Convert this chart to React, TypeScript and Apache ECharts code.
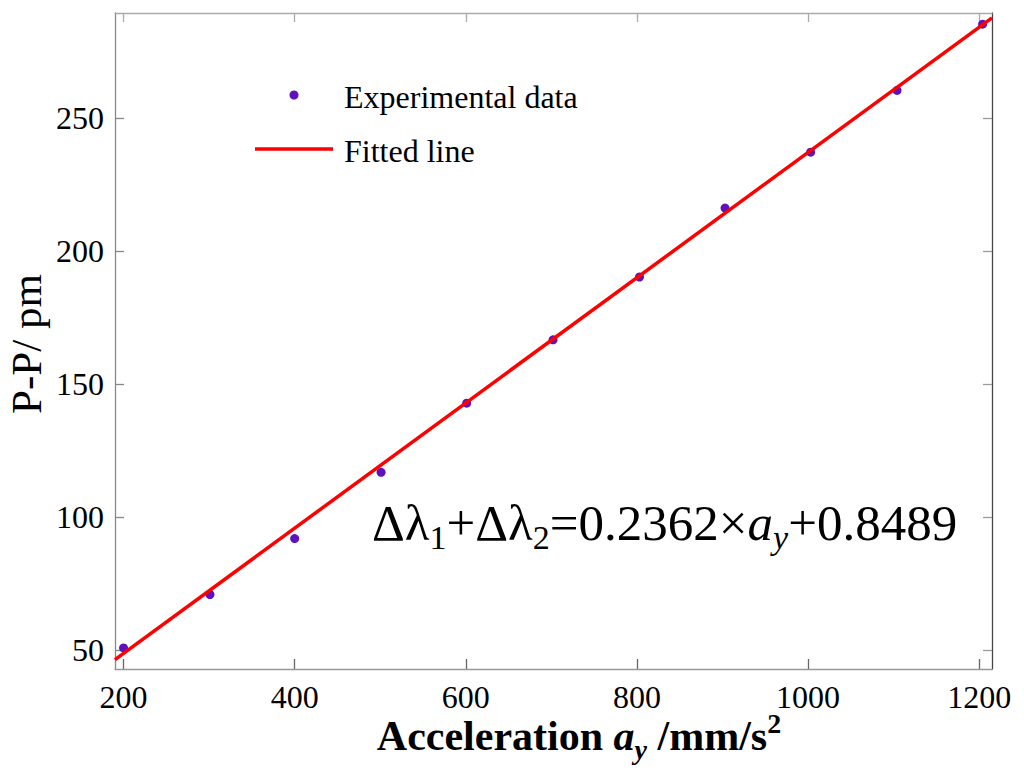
import React, { useEffect, useRef } from "react";
import * as echarts from "echarts";

const accelX = [200, 301, 400, 501, 601, 702, 803, 903, 1003, 1104, 1204];
const ppY = [50.9, 71.0, 92.0, 116.9, 142.9, 166.7, 190.3, 216.2, 237.2, 260.4, 285.3];
// Fitted line end points
const fitX = [190, 1215];
const fitY = [46.5, 287.7];
// Axis ranges and ticks
const xRange = [190, 1215];
const yRange = [43, 289.5];
const xTicks = [200, 400, 600, 800, 1000, 1200];
const yTicks = [50, 100, 150, 200, 250];

const FONT = "Liberation Serif";
const DOT = "#5E11BE";
const RED = "#FF0000";

export default function App() {
  const ref = useRef<HTMLDivElement>(null);
  useEffect(() => {
    if (!ref.current) return;
    const chart = echarts.init(ref.current, null, { renderer: "svg" });
    const scatterData = accelX.map((x, i) => [x, ppY[i]]);
    const lineData = fitX.map((x, i) => [x, fitY[i]]);
    const fmt = (v: number) => String(v);
    const tickLabel = { fontFamily: FONT, fontSize: 32, color: "#000" };
    chart.setOption({
      animation: false,
      backgroundColor: "#fff",
      textStyle: { fontFamily: FONT },
      grid: { left: 115, right: 32, top: 13, bottom: 103, containLabel: false },
      xAxis: [
        {
          type: "value",
          position: "bottom",
          min: xRange[0],
          max: xRange[1],
          axisLine: { show: true, onZero: false, lineStyle: { color: "#999", width: 1.3 } },
          axisTick: { show: true, inside: true, length: 10, customValues: xTicks, lineStyle: { color: "#666", width: 1.3 } },
          axisLabel: { ...tickLabel, customValues: xTicks, margin: 12, formatter: fmt },
          splitLine: { show: false },
        },
        {
          type: "value",
          position: "top",
          min: xRange[0],
          max: xRange[1],
          axisLine: { show: true, onZero: false, lineStyle: { color: "#aaa", width: 1.3 } },
          axisTick: { show: true, inside: true, length: 9, customValues: xTicks, lineStyle: { color: "#aaa", width: 1.3 } },
          axisLabel: { show: false },
          splitLine: { show: false },
        },
      ],
      yAxis: [
        {
          type: "value",
          position: "left",
          min: yRange[0],
          max: yRange[1],
          axisLine: { show: true, onZero: false, lineStyle: { color: "#888", width: 1.3 } },
          axisTick: { show: true, inside: true, length: 9, customValues: yTicks, lineStyle: { color: "#888", width: 1.3 } },
          axisLabel: { ...tickLabel, customValues: yTicks, margin: 11, formatter: fmt },
          splitLine: { show: false },
        },
        {
          type: "value",
          position: "right",
          min: yRange[0],
          max: yRange[1],
          axisLine: { show: true, onZero: false, lineStyle: { color: "#444", width: 1.3 } },
          axisTick: { show: true, inside: true, length: 9, customValues: yTicks, lineStyle: { color: "#999", width: 1.3 } },
          axisLabel: { show: false },
          splitLine: { show: false },
        },
      ],
      series: [
        {
          name: "Experimental data",
          type: "scatter",
          data: scatterData,
          symbol: "circle",
          symbolSize: 9,
          itemStyle: { color: DOT, opacity: 1 },
          z: 2,
        },
        {
          name: "Fitted line",
          type: "line",
          data: lineData,
          showSymbol: false,
          symbol: "none",
          lineStyle: { color: RED, width: 3.5 },
          clip: true,
          z: 3,
        },
      ],
      graphic: [
        // legend
        { type: "circle", shape: { cx: 294, cy: 95, r: 4.5 }, style: { fill: DOT }, z: 10 },
        { type: "line", shape: { x1: 255, y1: 149, x2: 333, y2: 149 }, style: { stroke: RED, lineWidth: 3.5 }, z: 10 },
        {
          type: "text",
          x: 344,
          y: 97,
          z: 10,
          style: { text: "Experimental data", fontFamily: FONT, fontSize: 32, fill: "#000", align: "left", verticalAlign: "middle" },
        },
        {
          type: "text",
          x: 344,
          y: 151,
          z: 10,
          style: { text: "Fitted line", fontFamily: FONT, fontSize: 32, fill: "#000", align: "left", verticalAlign: "middle" },
        },
        // y axis title
        {
          type: "text",
          x: 26,
          y: 344,
          rotation: Math.PI / 2,
          z: 10,
          style: { text: "P-P/ pm", fontFamily: FONT, fontSize: 43, fill: "#000", align: "center", verticalAlign: "middle" },
        },
        // x axis title
        {
          type: "text",
          x: 579,
          y: 736,
          z: 10,
          style: {
            text: "{b|Acceleration }{bi|a}{sub|y}{b| /mm/s}{sup|2}",
            align: "center",
            verticalAlign: "middle",
            fill: "#000",
            rich: {
              b: { fontFamily: FONT, fontWeight: "bold", fontSize: 42, lineHeight: 54, fill: "#000" },
              bi: { fontFamily: FONT, fontWeight: "bold", fontStyle: "italic", fontSize: 42, lineHeight: 54, fill: "#000" },
              sub: { fontFamily: FONT, fontWeight: "bold", fontStyle: "italic", fontSize: 28, lineHeight: 28, verticalAlign: "bottom", fill: "#000" },
              sup: { fontFamily: FONT, fontWeight: "bold", fontSize: 28, lineHeight: 28, verticalAlign: "top", fill: "#000" },
            },
          },
        },
        // equation
        {
          type: "text",
          x: 372,
          y: 523,
          z: 10,
          style: {
            text: "{m|Δλ}{s|1}{m|+Δλ}{s|2}{m|=0.2362×}{i|a}{si|y}{m|+0.8489}",
            align: "left",
            verticalAlign: "middle",
            fill: "#000",
            rich: {
              m: { fontFamily: FONT, fontSize: 51, lineHeight: 62, fill: "#000" },
              i: { fontFamily: FONT, fontStyle: "italic", fontSize: 51, lineHeight: 62, fill: "#000" },
              s: { fontFamily: FONT, fontSize: 34, lineHeight: 34, verticalAlign: "bottom", fill: "#000" },
              si: { fontFamily: FONT, fontStyle: "italic", fontSize: 34, lineHeight: 34, verticalAlign: "bottom", fill: "#000" },
            },
          },
        },
      ],
    });
    return () => chart.dispose();
  }, []);
  return (
    <div
      ref={ref}
      style={{ position: "absolute", left: 0, top: 0, width: 1024, height: 772, background: "#fff" }}
    />
  );
}
